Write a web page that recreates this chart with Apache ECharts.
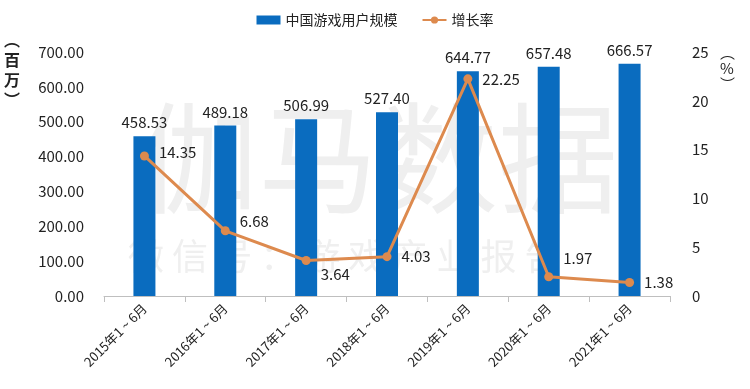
<!DOCTYPE html>
<html><head><meta charset="utf-8">
<script src="https://cdn.jsdelivr.net/npm/echarts@6/dist/echarts.min.js"></script>
<style>html,body{margin:0;padding:0;background:#fff}#c{width:750px;height:389px}</style>
</head><body><div id="c"></div>
<script>
const categories = ['2015年1 ~ 6月','2016年1 ~ 6月','2017年1 ~ 6月','2018年1 ~ 6月','2019年1 ~ 6月','2020年1 ~ 6月','2021年1 ~ 6月'];
const users = [458.53, 489.18, 506.99, 527.40, 644.77, 657.48, 666.57];
const growth = [14.35, 6.68, 3.64, 4.03, 22.25, 1.97, 1.38];
const leftTicks = {min: 0, max: 700, interval: 100};
const rightTicks = {min: 0, max: 25, interval: 5};
const leftName = '︵\n百\n万\n︶';
const rightName = '︵\n%\n︶';

const labelOffsets = [[2,-4],[2,-10],[2,14],[2,0],[2,0],[2,-18],[2,0]];
const font = "'Noto Sans CJK SC', 'Noto Sans', sans-serif";
const chart = echarts.init(document.getElementById('c'));
chart.setOption({
  animation: false,
  textStyle: {fontFamily: font},
  graphic: [
    {type:'text', left: 138, top: 98, z: -10, silent: true,
     style:{text:'伽马数据', font:"120px 'Noto Sans CJK SC'", fill:'#efefef'}},
    {type:'text', left: 128, top: 238, z: -10, silent: true,
     style:{text:'微 信 号 ： 游 戏 产 业 报 告', font:"36px 'Noto Sans CJK SC'", fill:'#efefef'}},
    {type:'text', left: 4, top: 30, silent: true,
     style:{text: leftName, font:"bold 16px 'Noto Sans CJK SC'", fill:'#222', lineHeight: 20, align: 'center', x: 10}},
    {type:'text', left: 720, top: 44, silent: true,
     style:{text: rightName, font:"15px 'Noto Sans CJK SC'", fill:'#222', lineHeight: 16, align: 'center', x: 8}}
  ],
  legend: {
    top: 8, left: 'center', itemGap: 24,
    textStyle: {fontSize: 14, color: '#222'},
    data: [
      {name: '中国游戏用户规模', icon: 'rect', itemStyle: {color: '#0a6cbf'}},
      {name: '增长率'}
    ],
    itemWidth: 24, itemHeight: 9
  },
  grid: {left: 104, right: 80, top: 52, bottom: 93, containLabel: false, outerBoundsMode: 'none'},
  xAxis: {
    type: 'category', data: categories,
    axisLine: {lineStyle: {color: '#bfbfbf'}},
    axisTick: {show: true, length: 6, lineStyle: {color: '#bfbfbf'}},
    axisLabel: {rotate: 45, fontSize: 13, color: '#222', margin: 10}
  },
  yAxis: [
    {type: 'value', min: leftTicks.min, max: leftTicks.max, interval: leftTicks.interval,
     splitLine: {show: false}, axisLine: {show: false},
     axisLabel: {fontSize: 15, color: '#222', margin: 20, formatter: v => v.toFixed(2)}
    },
    {type: 'value', min: rightTicks.min, max: rightTicks.max, interval: rightTicks.interval,
     splitLine: {show: false}, axisLine: {show: false},
     axisLabel: {fontSize: 15, color: '#222', margin: 22}
    }
  ],
  series: [
    {name: '中国游戏用户规模', type: 'bar', data: users, barWidth: 22, z: 1,
     itemStyle: {color: '#0a6cbf'},
     label: {show: true, position: 'top', fontSize: 15, color: '#222', distance: 6, formatter: p => p.value.toFixed(2)}
    },
    {name: '增长率', type: 'line', yAxisIndex: 1, z: 3,
     data: growth.map((v, i) => ({value: v, label: {offset: labelOffsets[i]}})),
     symbol: 'circle', symbolSize: 9,
     lineStyle: {color: '#dd8a4e', width: 3},
     itemStyle: {color: '#dd8a4e'},
     label: {show: true, position: 'right', fontSize: 15, color: '#222', distance: 8, formatter: p => p.value.toFixed(2)}
    }
  ]
});
</script></body></html>
